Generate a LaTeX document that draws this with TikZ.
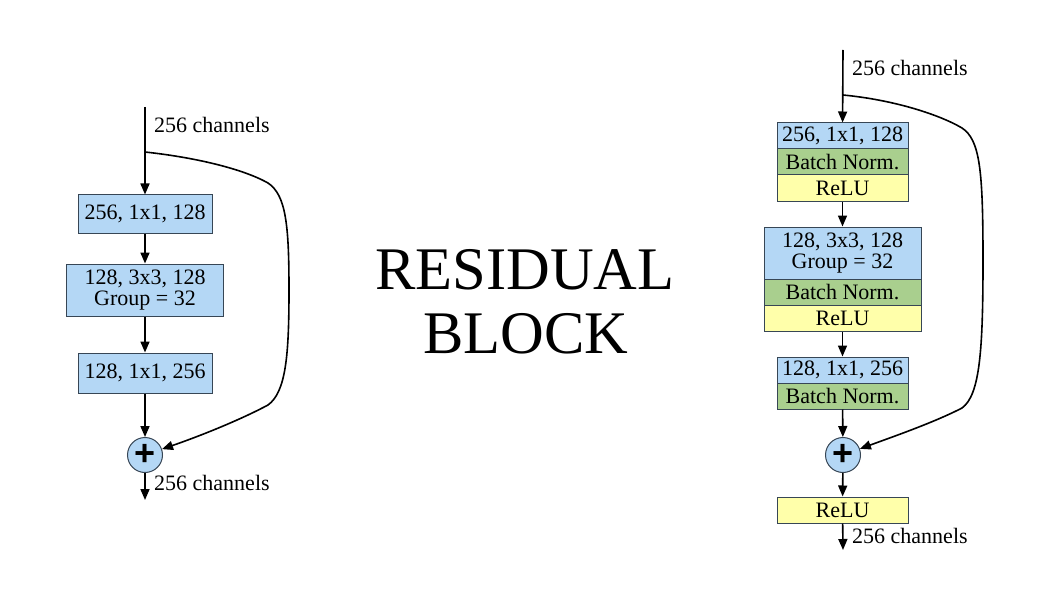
\documentclass[tikz,border=0pt]{standalone}
\usepackage{fontspec}
\setmainfont{Liberation Serif}
\newfontfamily\plusfont{Liberation Sans}
\usetikzlibrary{arrows.meta}
\definecolor{cblue}{RGB}{180,215,245}
\definecolor{cgreen}{RGB}{169,207,142}
\definecolor{cyellow}{RGB}{255,255,170}
\definecolor{cedge}{RGB}{55,70,85}
\begin{document}
\begin{tikzpicture}[x=1pt,y=-1pt,
  lbl/.style={font=\fontsize{22}{25}\selectfont, inner sep=0pt, anchor=base west},
  blk/.style={draw=cedge, line width=1pt, inner sep=0pt, font=\fontsize{22}{25}\selectfont, align=center},
  blue/.style={blk, fill=cblue},
  green/.style={blk, fill=cgreen},
  yellow/.style={blk, fill=cyellow},
  narrow/.style={minimum width=131pt},
  wide/.style={minimum width=157pt},
  plusnode/.style={circle, draw=cedge, fill=cblue, line width=1pt, minimum size=35pt, inner sep=0pt, font=\plusfont\fontsize{36}{36}\selectfont\bfseries},
  arr/.style={line width=1.6pt, -{Triangle[length=11pt,width=9pt]}},
  title/.style={anchor=base, font=\fontsize{60.5}{60}\selectfont, inner sep=0pt}
]
\useasboundingbox (0,0) rectangle (1050,591);

% ---------- left block ----------
\coordinate (in1) at (145,107);
\coordinate (br1) at (145,152);
\coordinate (out1) at (145,500);
\node[blue, minimum width=134pt, minimum height=38pt] (b1) at (145,214) {256, 1x1, 128};
\node[blue, wide, minimum height=52pt] (b2) at (145,290) {128, 3x3, 128\\[-4pt]Group = 32};
\node[blue, minimum width=134pt, minimum height=40pt] (b3) at (145,373) {128, 1x1, 256};
\node[plusnode] (p1) at (145,455) {+};
\node[lbl] (l1) at (154,133) {256 channels};
\node[lbl] (l2) at (154,490) {256 channels};

\draw[arr] (in1) -- (b1);
\draw[arr] (b1) -- (b2);
\draw[arr] (b2) -- (b3);
\draw[arr] (b3) -- (p1);
\draw[arr] (p1) -- (out1);
\draw[arr] (br1) .. controls (200,158) and (245,170) .. (268,183)
  .. controls (286,195) and (289,225) .. (289,290)
  .. controls (289,355) and (286,392) .. (268,405)
  .. controls (240,420) and (200,436) .. (p1);

% ---------- title ----------
\node[title] (t1) at (525,289) {RESIDUAL};
\node[title] (t2) at (526,353) {BLOCK};

% ---------- right block ----------
\coordinate (in2) at (843,50);
\coordinate (br2) at (843,95);
\coordinate (out2) at (843,550);
\node[blue, narrow, minimum height=26pt] (r1a) at (842.5,136) {256, 1x1, 128};
\node[green, narrow, minimum height=26pt] (r1b) at (842.5,162) {Batch Norm.};
\node[yellow, narrow, minimum height=26pt] (r1c) at (842.5,188) {ReLU};

\node[blue, wide, minimum height=52pt] (r2a) at (842.5,253) {128, 3x3, 128\\[-4pt]Group = 32};
\node[green, wide, minimum height=26pt] (r2b) at (842.5,292) {Batch Norm.};
\node[yellow, wide, minimum height=26pt] (r2c) at (842.5,318) {ReLU};

\node[blue, narrow, minimum height=26pt] (r3a) at (842.5,370) {128, 1x1, 256};
\node[green, narrow, minimum height=26pt] (r3b) at (842.5,396) {Batch Norm.};

\node[plusnode] (p2) at (843,455) {+};
\node[yellow, narrow, minimum height=26pt] (r4) at (842.5,510) {ReLU};

\node[lbl] (l3) at (852,76) {256 channels};
\node[lbl] (l4) at (852,543) {256 channels};

\draw[arr] (in2) -- (r1a);
\draw[arr] (r1c) -- (r2a);
\draw[arr] (r2c) -- (r3a);
\draw[arr] (r3b) -- (p2);
\draw[arr] (p2) -- (r4);
\draw[arr] (r4) -- (out2);
\draw[arr] (br2) .. controls (895,100) and (940,115) .. (962,128)
  .. controls (980,140) and (983,170) .. (983,260)
  .. controls (983,350) and (980,395) .. (962,408)
  .. controls (935,422) and (895,436) .. (p2);
\end{tikzpicture}
\end{document}
